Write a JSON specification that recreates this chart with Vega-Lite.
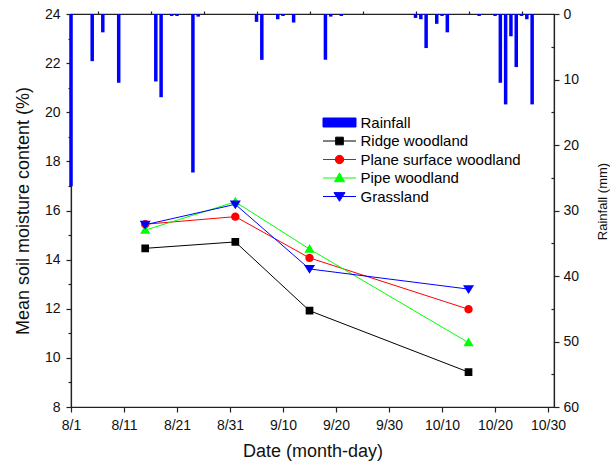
{
  "$schema": "https://vega.github.io/schema/vega-lite/v6.json",
  "width": 483,
  "height": 393,
  "autosize": {"type": "none"},
  "padding": {"left": 71, "top": 14, "right": 56, "bottom": 59},
  "background": "white",
  "config": {
    "font": "Liberation Sans",
    "view": {"stroke": "#222", "strokeWidth": 1.2},
    "axis": {
      "grid": false,
      "domainColor": "#222",
      "domainWidth": 1.2,
      "tickColor": "#222",
      "tickWidth": 1.2,
      "tickSize": 5,
      "labelColor": "#111",
      "labelFont": "Liberation Sans",
      "labelFontSize": 14,
      "labelOverlap": false,
      "labelFlush": false,
      "titleFont": "Liberation Sans",
      "titleFontWeight": "normal",
      "titleColor": "#111"
    },
    "legend": {"labelFont": "Liberation Sans"}
  },
  "datasets": {
    "rain": [
      {"date": "2010-08-01", "mm": 26.3},
      {"date": "2010-08-05", "mm": 7.2},
      {"date": "2010-08-07", "mm": 2.8},
      {"date": "2010-08-10", "mm": 10.5},
      {"date": "2010-08-17", "mm": 10.3},
      {"date": "2010-08-18", "mm": 12.7},
      {"date": "2010-08-20", "mm": 0.3},
      {"date": "2010-08-21", "mm": 0.3},
      {"date": "2010-08-24", "mm": 24.2},
      {"date": "2010-08-25", "mm": 0.4},
      {"date": "2010-09-05", "mm": 1.2},
      {"date": "2010-09-06", "mm": 7.0},
      {"date": "2010-09-09", "mm": 0.8},
      {"date": "2010-09-10", "mm": 0.3},
      {"date": "2010-09-12", "mm": 1.3},
      {"date": "2010-09-18", "mm": 7.0},
      {"date": "2010-09-19", "mm": 0.4},
      {"date": "2010-09-21", "mm": 0.3},
      {"date": "2010-10-05", "mm": 0.6},
      {"date": "2010-10-06", "mm": 0.8},
      {"date": "2010-10-07", "mm": 5.2},
      {"date": "2010-10-09", "mm": 1.5},
      {"date": "2010-10-10", "mm": 0.3},
      {"date": "2010-10-11", "mm": 2.8},
      {"date": "2010-10-17", "mm": 0.3},
      {"date": "2010-10-20", "mm": 0.3},
      {"date": "2010-10-21", "mm": 10.5},
      {"date": "2010-10-22", "mm": 13.8},
      {"date": "2010-10-23", "mm": 3.4},
      {"date": "2010-10-24", "mm": 8.1},
      {"date": "2010-10-25", "mm": 0.3},
      {"date": "2010-10-26", "mm": 0.8},
      {"date": "2010-10-27", "mm": 13.8}
    ],
    "soil": [
      {"date": "2010-08-15", "series": "Ridge woodland", "value": 14.46},
      {"date": "2010-09-01", "series": "Ridge woodland", "value": 14.72},
      {"date": "2010-09-15", "series": "Ridge woodland", "value": 11.92},
      {"date": "2010-10-15", "series": "Ridge woodland", "value": 9.42},
      {"date": "2010-08-15", "series": "Plane surface woodland", "value": 15.44},
      {"date": "2010-09-01", "series": "Plane surface woodland", "value": 15.75},
      {"date": "2010-09-15", "series": "Plane surface woodland", "value": 14.07},
      {"date": "2010-10-15", "series": "Plane surface woodland", "value": 11.98},
      {"date": "2010-08-15", "series": "Pipe woodland", "value": 15.2},
      {"date": "2010-09-01", "series": "Pipe woodland", "value": 16.35},
      {"date": "2010-09-15", "series": "Pipe woodland", "value": 14.43},
      {"date": "2010-10-15", "series": "Pipe woodland", "value": 10.62},
      {"date": "2010-08-15", "series": "Grassland", "value": 15.42},
      {"date": "2010-09-01", "series": "Grassland", "value": 16.25},
      {"date": "2010-09-15", "series": "Grassland", "value": 13.62},
      {"date": "2010-10-15", "series": "Grassland", "value": 12.8}
    ]
  },
  "layer": [
    {
      "data": {"name": "rain"},
      "mark": {"type": "bar", "color": "#0000ff", "size": 3.5},
      "encoding": {
        "x": {
          "field": "date", "type": "temporal",
          "scale": {"type": "utc", "padding": 0, "domain": [{"year": 2010, "month": 8, "date": 1, "utc": true}, {"year": 2010, "month": 10, "date": 31, "hours": 3, "utc": true}]},
          "axis": {
            "values": [
              {"year": 2010, "month": 8, "date": 1, "utc": true},
              {"year": 2010, "month": 8, "date": 11, "utc": true},
              {"year": 2010, "month": 8, "date": 21, "utc": true},
              {"year": 2010, "month": 8, "date": 31, "utc": true},
              {"year": 2010, "month": 9, "date": 10, "utc": true},
              {"year": 2010, "month": 9, "date": 20, "utc": true},
              {"year": 2010, "month": 9, "date": 30, "utc": true},
              {"year": 2010, "month": 10, "date": 10, "utc": true},
              {"year": 2010, "month": 10, "date": 20, "utc": true},
              {"year": 2010, "month": 10, "date": 30, "utc": true}
            ],
            "format": "%-m/%-d",
            "labelPadding": 6,
            "title": "Date (month-day)",
            "titleFontSize": 18,
            "titlePadding": 10
          }
        },
        "y": {
          "field": "mm", "type": "quantitative",
          "scale": {"domain": [0, 60], "reverse": true, "nice": false, "zero": true},
          "axis": {
            "orient": "right",
            "values": [0, 10, 20, 30, 40, 50, 60],
            "labelPadding": 4,
            "title": "Rainfall (mm)",
            "titleFontSize": 13,
            "titleAngle": 270,
            "titlePadding": 31,
            "titleY": 187
          }
        }
      }
    },
    {
      "data": {"name": "rain"},
      "mark": {"type": "bar", "opacity": 0, "size": 1},
      "encoding": {
        "x": {"field": "date", "type": "temporal", "scale": {"type": "utc", "padding": 0}, "axis": null},
        "y": {
          "field": "mm", "type": "quantitative",
          "scale": {"domain": [0, 60], "reverse": true, "nice": false},
          "axis": {"orient": "right", "values": [5, 15, 25, 35, 45, 55], "labels": false, "domain": false, "title": null, "tickSize": -3}
        }
      }
    },
    {
      "data": {"name": "soil"},
      "mark": {"type": "line", "strokeWidth": 1},
      "encoding": {
        "x": {
          "field": "date", "type": "temporal", "scale": {"type": "utc", "padding": 0},
          "axis": {
            "values": [
              {"year": 2010, "month": 8, "date": 6, "utc": true},
              {"year": 2010, "month": 8, "date": 16, "utc": true},
              {"year": 2010, "month": 8, "date": 26, "utc": true},
              {"year": 2010, "month": 9, "date": 5, "utc": true},
              {"year": 2010, "month": 9, "date": 15, "utc": true},
              {"year": 2010, "month": 9, "date": 25, "utc": true},
              {"year": 2010, "month": 10, "date": 5, "utc": true},
              {"year": 2010, "month": 10, "date": 15, "utc": true},
              {"year": 2010, "month": 10, "date": 25, "utc": true}
            ],
            "labels": false, "domain": false, "title": null, "tickSize": 3
          }
        },
        "y": {
          "field": "value", "type": "quantitative",
          "scale": {"domain": [8, 24], "nice": false, "zero": false},
          "axis": {
            "orient": "left",
            "values": [8, 10, 12, 14, 16, 18, 20, 22, 24],
            "labelPadding": 6,
            "title": "Mean soil moisture content (%)",
            "titleFontSize": 18,
            "titlePadding": 12
          }
        },
        "stroke": {
          "field": "series", "type": "nominal",
          "scale": {"domain": ["Ridge woodland", "Plane surface woodland", "Pipe woodland", "Grassland"], "range": ["#000000", "#ff0000", "#00ff00", "#0000ff"]},
          "legend": null
        }
      }
    },
    {
      "data": {"name": "soil"},
      "mark": {"type": "point", "filled": true, "size": 144, "opacity": 1},
      "encoding": {
        "x": {"field": "date", "type": "temporal", "scale": {"type": "utc", "padding": 0}, "axis": null},
        "y": {
          "field": "value", "type": "quantitative",
          "scale": {"domain": [8, 24], "nice": false, "zero": false},
          "axis": {"orient": "left", "values": [9, 11, 13, 15, 17, 19, 21, 23], "labels": false, "domain": false, "title": null, "tickSize": 3}
        },
        "color": {
          "field": "series", "type": "nominal",
          "scale": {"domain": ["Rainfall", "Ridge woodland", "Plane surface woodland", "Pipe woodland", "Grassland"], "range": ["#0000ff", "#000000", "#ff0000", "#00ff00", "#0000ff"]},
          "legend": {
            "title": null, "orient": "none", "legendX": 261, "legendY": 101,
            "padding": 0, "symbolSize": 144, "labelFontSize": 15, "labelOffset": 13.5, "labelLimit": 0,
            "rowPadding": 2.5,
            "symbolStrokeColor": {"expr": "scale('color', datum.value)"},
            "symbolStrokeWidth": 1
          }
        },
        "shape": {
          "field": "series", "type": "nominal",
          "scale": {
            "domain": ["Rainfall", "Ridge woodland", "Plane surface woodland", "Pipe woodland", "Grassland"],
            "range": [
              "M-2.75,-0.75H2.75V0.75H-2.75Z",
              "M-2.75,0H2.75M-0.64,-0.64H0.64V0.64H-0.64Z",
              "M-2.75,0H2.75M-0.7,0A0.7,0.7,0,1,0,0.7,0A0.7,0.7,0,1,0,-0.7,0Z",
              "M-2.75,0H2.75M0,-0.85L0.85,0.62L-0.85,0.62Z",
              "M-2.75,0H2.75M0,0.8L0.92,-0.65L-0.92,-0.65Z"
            ]
          },
          "legend": {
            "title": null, "orient": "none", "legendX": 261, "legendY": 101,
            "padding": 0, "symbolSize": 144, "labelFontSize": 15, "labelOffset": 13.5, "labelLimit": 0,
            "rowPadding": 2.5,
            "symbolStrokeColor": {"expr": "scale('color', datum.value)"},
            "symbolStrokeWidth": 1
          }
        }
      }
    }
  ],
  "resolve": {
    "scale": {"y": "independent"},
    "axis": {"x": "independent", "y": "independent"}
  }
}
